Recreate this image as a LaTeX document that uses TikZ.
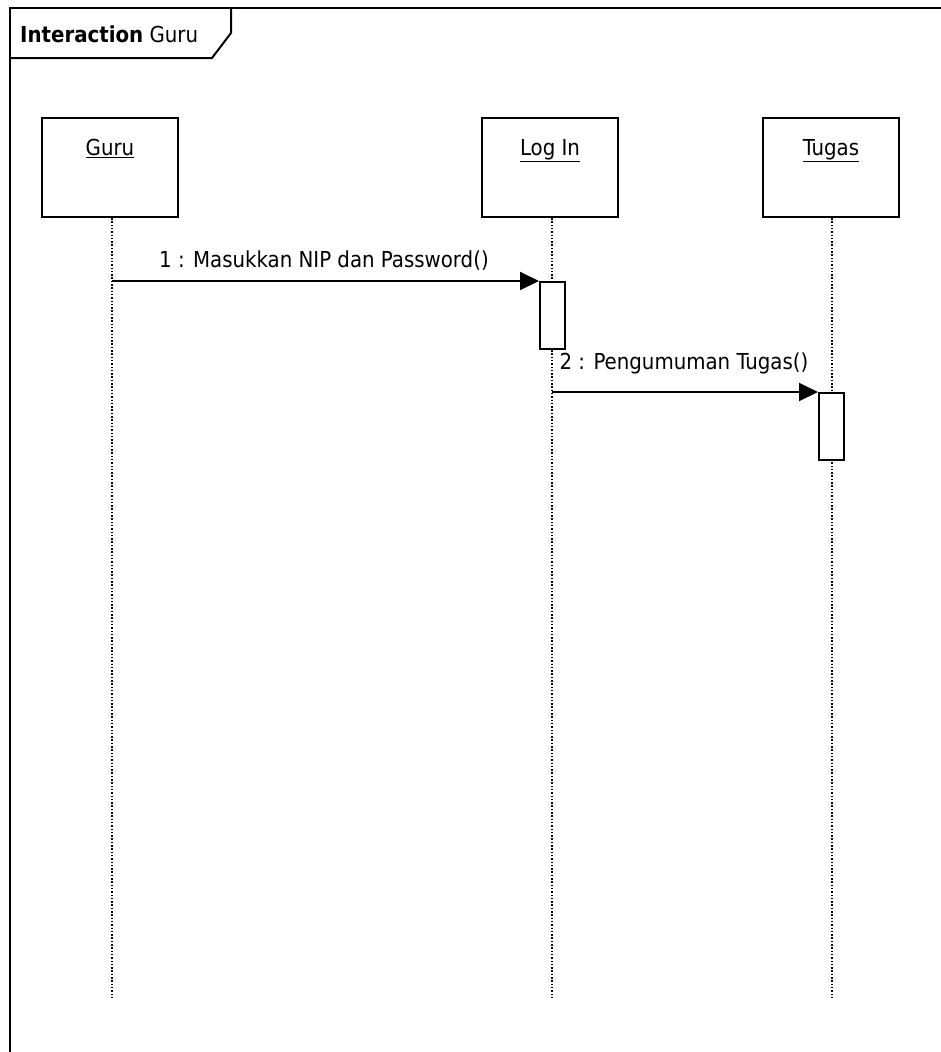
\documentclass[tikz,border=0pt]{standalone}
\usepackage{fontspec}
\setmainfont{DejaVu Sans Condensed}
\usetikzlibrary{arrows.meta}
\begin{document}
\begin{tikzpicture}[x=1pt,y=-1pt,
  objbox/.style={draw,line width=2pt,minimum width=136pt,minimum height=99pt,inner sep=0pt},
  txt/.style={font=\fontsize{22}{26}\selectfont,inner sep=0pt},
  objname/.style={txt,anchor=base},
  actbox/.style={draw,line width=2pt,fill=white,minimum width=25pt,inner sep=0pt,anchor=north west},
  lifeline/.style={line width=1.5pt,dash pattern=on 1.5pt off 1.8pt},
  msg/.style={line width=2pt,-{Triangle[length=19pt,width=18pt]}},
  msglabel/.style={txt,anchor=base}]
\useasboundingbox (0,0) rectangle (941,1052);
\fill[white] (0,0) rectangle (941,1052);
\begin{scope}
\clip (0,0) rectangle (941,1052);
% interaction frame and its name tab
\draw[line width=2pt] (10,1070) -- (10,8) -- (960,8);
\draw[line width=2pt] (10,58) -- (212,58) -- (231,33) -- (231,8);
\end{scope}
\node[txt,anchor=base west] (title) at (20,42) {\textbf{Interaction} Guru};

% objects
\node[objbox] (guru) at (110,167) {};
\node[objbox] (login) at (550,167) {};
\node[objbox] (tugas) at (831,167) {};
\node[objname] (guruname) at (110,155) {\underline{Guru}};
\node[objname] (loginname) at (550,155) {\underline{Log In}};
\node[objname] (tugasname) at (831,155) {\underline{Tugas}};

% lifelines
\coordinate (guruend) at (112,1000);
\coordinate (loginend) at (552,1000);
\coordinate (tugasend) at (832,1000);
\draw[lifeline] (112,218) -- (guruend);
\draw[lifeline] (552,218) -- (loginend);
\draw[lifeline] (832,218) -- (tugasend);

% activations
\node[actbox,minimum height=67pt] (act1) at (539,281) {};
\node[actbox,minimum height=67pt] (act2) at (818,392) {};

% messages
\coordinate (m1start) at (112,281);
\coordinate (m2start) at (552,392);
\draw[msg] (m1start) -- (act1.north west);
\draw[msg] (m2start) -- (act2.north west);
\node[msglabel] (m1label) at (324,267) {1 : Masukkan NIP dan Password()};
\node[msglabel] (m2label) at (684,369) {2 : Pengumuman Tugas()};
\end{tikzpicture}
\end{document}
